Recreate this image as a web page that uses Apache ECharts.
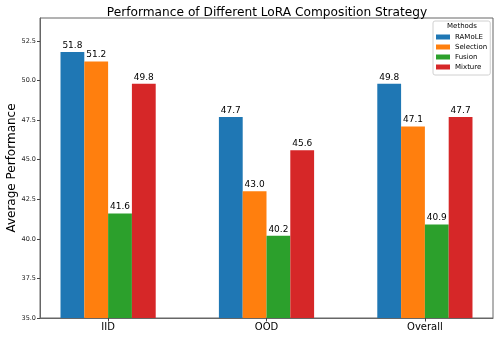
<!DOCTYPE html>
<html>
<head>
<meta charset="utf-8">
<script src="https://cdn.jsdelivr.net/npm/echarts@6/dist/echarts.min.js"></script>
<style>html,body{margin:0;padding:0;background:#fff}#c{width:498px;height:339px}</style>
</head>
<body>
<div id="c"></div>
<script>
var categories = ['IID', 'OOD', 'Overall'];
var methods = ['RAMoLE', 'Selection', 'Fusion', 'Mixture'];
var ramole = [51.8, 47.7, 49.8];
var selection = [51.2, 43.0, 47.1];
var fusion = [41.6, 40.2, 40.9];
var mixture = [49.8, 45.6, 47.7];
var yTicks = [35.0, 37.5, 40.0, 42.5, 45.0, 47.5, 50.0, 52.5];
var colors = ['#1f77b4', '#ff7f0e', '#2ca02c', '#d62728'];
var seriesValues = [ramole, selection, fusion, mixture];

var FONT = 'DejaVu Sans';
var chart = echarts.init(document.getElementById('c'), null, {renderer: 'canvas'});

var series = methods.map(function (name, i) {
  return {
    name: name,
    type: 'bar',
    barWidth: 23.8,
    barGap: '0%',
    itemStyle: {color: colors[i]},
    label: {
      show: true,
      position: 'top',
      distance: 2,
      fontFamily: FONT,
      fontSize: 9,
      color: '#000',
      formatter: function (p) { return p.value[1].toFixed(1); }
    },
    data: seriesValues[i].map(function (v, j) { return [j, v]; })
  };
});

chart.setOption({
  animation: false,
  color: colors,
  textStyle: {fontFamily: FONT},
  title: [{
    text: 'Performance of Different LoRA Composition Strategy',
    left: 262, top: 2, textAlign: 'center',
    textStyle: {fontFamily: FONT, fontSize: 12.2, fontWeight: 'normal', color: '#000'}
  }, {
    text: 'Methods',
    left: 462, top: 23, textAlign: 'center', padding: 0,
    textStyle: {fontFamily: FONT, fontSize: 7, fontWeight: 'normal', color: '#000'}
  }],
  legend: {
    orient: 'vertical',
    left: 433, top: 21,
    padding: [12, 3, 4, 3],
    itemWidth: 14, itemHeight: 5, itemGap: 2,
    icon: 'rect',
    borderColor: '#d0d0d0', borderWidth: 1, borderRadius: 2,
    backgroundColor: 'rgba(255,255,255,0.8)',
    textStyle: {fontFamily: FONT, fontSize: 7, color: '#000', lineHeight: 8},
    data: methods
  },
  grid: {
    left: 40, right: 5, top: 18, bottom: 21,
    show: true, borderColor: '#666', borderWidth: 1,
    outerBoundsMode: 'none',
    containLabel: false
  },
  xAxis: {
    type: 'value',
    min: -0.43, max: 2.43,
    splitLine: {show: false},
    axisLine: {show: true, onZero: false, lineStyle: {color: '#666'}},
    axisTick: {show: true, length: 3.5, customValues: [0, 1, 2], lineStyle: {color: '#444'}},
    axisLabel: {
      customValues: [0, 1, 2],
      fontFamily: FONT, fontSize: 10, color: '#000', margin: 4,
      formatter: function (v) { return categories[Math.round(v)]; }
    }
  },
  yAxis: {
    type: 'value',
    min: 35, max: 53.95,
    name: 'Average Performance',
    nameLocation: 'middle',
    nameGap: 22,
    nameMoveOverlap: false,
    nameTextStyle: {fontFamily: FONT, fontSize: 12, color: '#000'},
    splitLine: {show: false},
    axisLine: {show: true, onZero: false, lineStyle: {color: '#666'}},
    axisTick: {show: true, length: 3, customValues: yTicks, lineStyle: {color: '#444'}},
    axisLabel: {
      customValues: yTicks,
      fontFamily: FONT, fontSize: 6.5, color: '#222', margin: 4,
      formatter: function (v) { return v.toFixed(1); }
    }
  },
  series: series
});
</script>
</body>
</html>
